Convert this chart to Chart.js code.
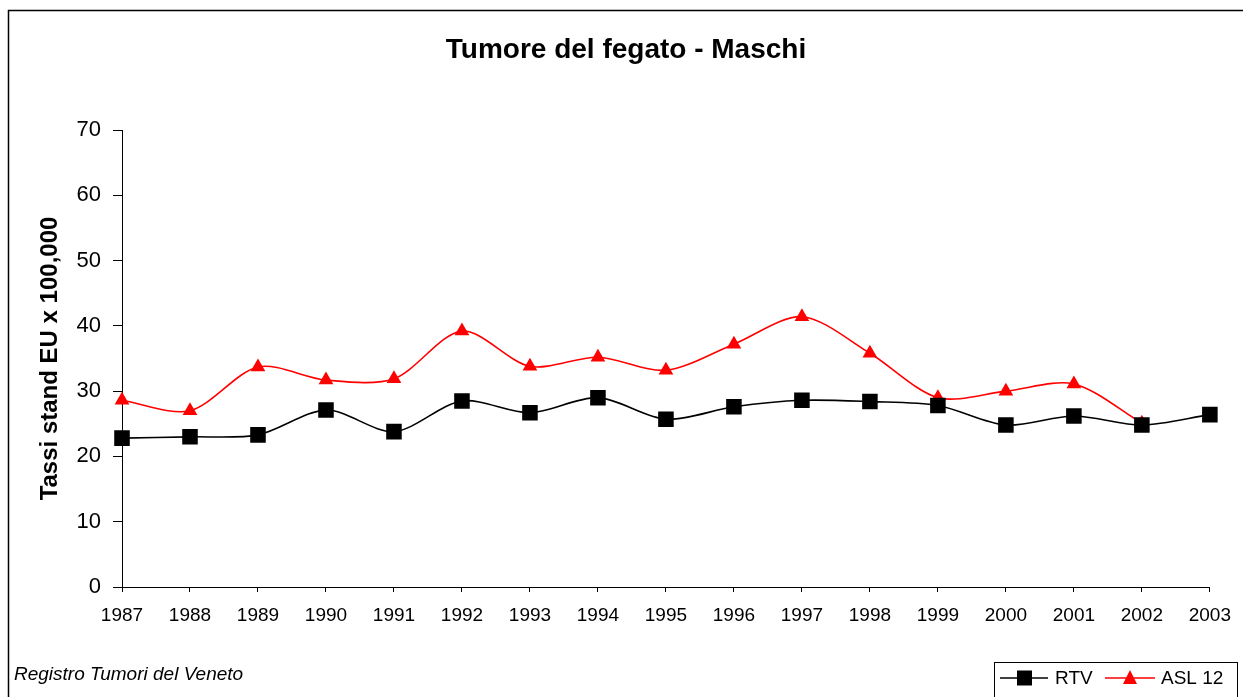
<!DOCTYPE html>
<html>
<head>
<meta charset="utf-8">
<script src="https://cdn.jsdelivr.net/npm/chart.js@4.4.0/dist/chart.umd.min.js"></script>
<style>
  html, body { margin: 0; padding: 0; background: #fff; }
  #wrap { width: 1243px; height: 697px; position: relative; }
</style>
</head>
<body>
<div id="wrap"><canvas id="grafico" width="1243" height="697"></canvas></div>
<script>
// Dati del grafico
var anni = ['1987', '1988', '1989', '1990', '1991', '1992', '1993', '1994', '1995',
            '1996', '1997', '1998', '1999', '2000', '2001', '2002', '2003'];
var rtv = [22.8, 23.0, 23.3, 27.1, 23.8, 28.5, 26.7, 29.0, 25.7,
           27.6, 28.6, 28.4, 27.8, 24.8, 26.2, 24.8, 26.4];
var asl12 = [28.6, 27.0, 33.7, 31.7, 31.9, 39.2, 33.8, 35.2, 33.2,
             37.2, 41.4, 35.8, 29.0, 30.0, 31.1, 25.1, null];
var tickY = [0, 10, 20, 30, 40, 50, 60, 70];

var FONT = '"Liberation Sans", Arial, sans-serif';

// Cornice, nota in basso e legenda disegnate a mano
var extra = {
  id: 'extra',
  beforeDraw: function (chart) {
    var ctx = chart.ctx;
    ctx.save();
    ctx.fillStyle = '#fff';
    ctx.fillRect(0, 0, chart.width, chart.height);
    ctx.strokeStyle = '#000';
    ctx.lineWidth = 1.5;
    ctx.beginPath();
    ctx.moveTo(8.5, chart.height + 5);
    ctx.lineTo(8.5, 10.5);
    ctx.lineTo(chart.width + 5, 10.5);
    ctx.stroke();
    ctx.restore();
  },
  afterDraw: function (chart) {
    var ctx = chart.ctx;
    ctx.save();
    // nota
    ctx.fillStyle = '#000';
    ctx.font = 'italic 19px ' + FONT;
    ctx.textBaseline = 'middle';
    ctx.textAlign = 'left';
    ctx.fillText('Registro Tumori del Veneto', 14, 675);

    // legenda
    ctx.lineWidth = 1;
    ctx.strokeStyle = '#000';
    ctx.strokeRect(994.5, 662.5, 243, 50);
    var y = 678;
    ctx.lineWidth = 1.5;
    ctx.beginPath();
    ctx.moveTo(1000, y);
    ctx.lineTo(1048, y);
    ctx.stroke();
    ctx.fillStyle = '#000';
    ctx.fillRect(1017, y - 7.5, 15, 15);
    ctx.font = '19px ' + FONT;
    ctx.fillText('RTV', 1055, y + 1);

    ctx.strokeStyle = '#ff0000';
    ctx.beginPath();
    ctx.moveTo(1105, y);
    ctx.lineTo(1155, y);
    ctx.stroke();
    ctx.fillStyle = '#ff0000';
    ctx.beginPath();
    ctx.moveTo(1130, y - 8);
    ctx.lineTo(1137, y + 6);
    ctx.lineTo(1123, y + 6);
    ctx.closePath();
    ctx.fill();
    ctx.fillStyle = '#000';
    ctx.fillText('ASL 12', 1161, y + 1);
    ctx.restore();
  }
};

var ctxGrafico = document.getElementById('grafico').getContext('2d');
new Chart(ctxGrafico, {
  type: 'line',
  data: {
    labels: anni,
    datasets: [{
      label: 'RTV',
      data: rtv,
      borderColor: '#000',
      backgroundColor: '#000',
      borderWidth: 1.6,
      pointStyle: 'rect',
      pointRadius: 11,
      pointHoverRadius: 11,
      pointBorderWidth: 0,
      tension: 0.3
    }, {
      label: 'ASL 12',
      data: asl12,
      borderColor: '#ff0000',
      backgroundColor: '#ff0000',
      borderWidth: 1.6,
      pointStyle: 'triangle',
      pointRadius: 8.5,
      pointHoverRadius: 8.5,
      pointBorderWidth: 0,
      tension: 0.3
    }]
  },
  options: {
    responsive: false,
    animation: false,
    devicePixelRatio: 1,
    layout: { padding: { left: 32, right: 23, top: 0, bottom: 0 } },
    plugins: {
      legend: { display: false },
      tooltip: { enabled: false },
      title: {
        display: true,
        text: 'Tumore del fegato - Maschi',
        color: '#000',
        font: { family: FONT, size: 28, weight: 'bold', lineHeight: 1.2 },
        padding: { top: 33, bottom: 63.4 }
      }
    },
    scales: {
      x: {
        offset: false,
        grid: { drawOnChartArea: false, drawTicks: true, tickLength: 5, color: '#000' },
        border: { color: '#000', width: 1 },
        ticks: {
          color: '#000',
          font: { family: FONT, size: 19 },
          padding: 12,
          maxRotation: 0,
          autoSkip: false
        },
        afterFit: function (s) { s.height = 110; }
      },
      y: {
        min: 0,
        max: 70,
        afterBuildTicks: function (s) {
          s.ticks = tickY.map(function (v) { return { value: v }; });
        },
        grid: { drawOnChartArea: false, drawTicks: true, tickLength: 9, color: '#000' },
        border: { color: '#000', width: 1 },
        ticks: {
          color: '#000',
          font: { family: FONT, size: 22 },
          padding: 12
        },
        title: {
          display: true,
          text: 'Tassi stand EU x 100,000',
          color: '#000',
          font: { family: FONT, size: 24, weight: 'bold', lineHeight: 1.2 },
          padding: { top: 4, bottom: 0 }
        },
        afterFit: function (s) { s.width = 90; }
      }
    }
  },
  plugins: [extra]
});
</script>
</body>
</html>
